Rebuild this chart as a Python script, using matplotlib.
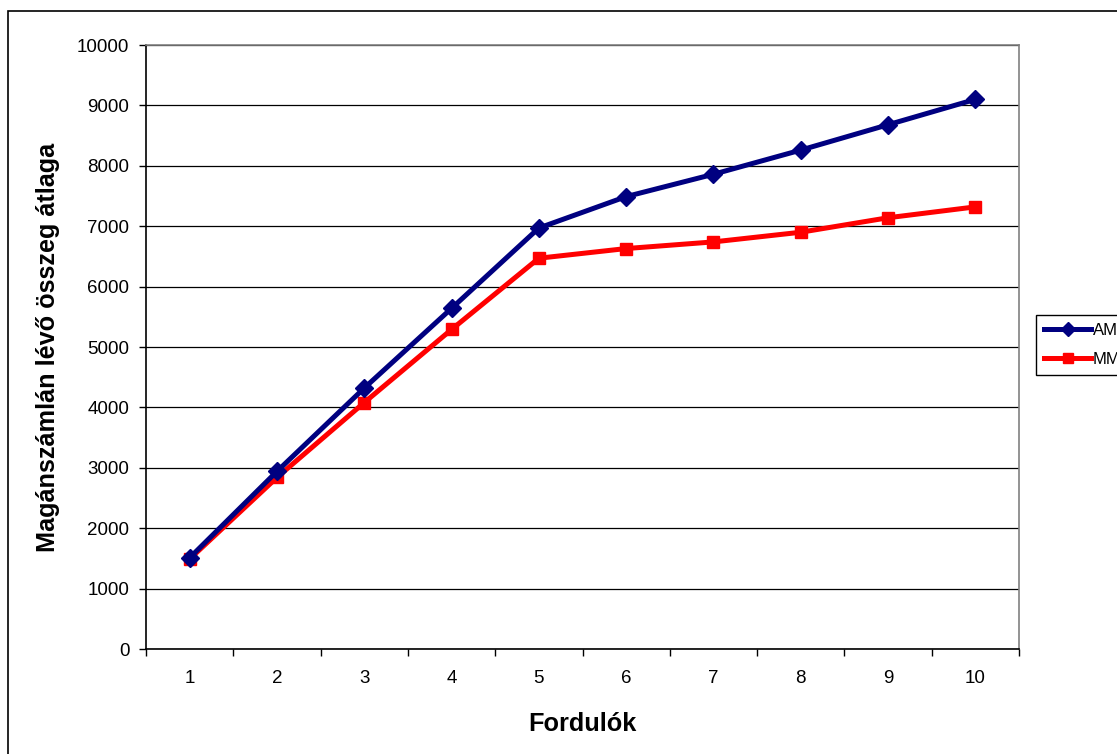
import matplotlib.pyplot as plt
from matplotlib.patches import Rectangle

plt.rcParams['font.family'] = ['Liberation Sans', 'DejaVu Sans']

# data
rounds = [1, 2, 3, 4, 5, 6, 7, 8, 9, 10]
am = [1510, 2940, 4320, 5640, 6970, 7490, 7860, 8260, 8680, 9100]
mm = [1490, 2840, 4080, 5290, 6470, 6630, 6740, 6900, 7140, 7320]

W, H = 1117, 754
fig = plt.figure(figsize=(W / 100, H / 100), dpi=100)
ax = fig.add_axes([146 / W, 1 - 649 / H, 873 / W, 604 / H])

# outer chart frame
fig.patches.append(Rectangle((8 / W, -0.1), 1.2, 1.1 - 11 / H, transform=fig.transFigure,
                             fill=False, edgecolor='black', linewidth=1.2))

pos = list(range(len(rounds)))
ax.plot(pos, am, color='#000080', linewidth=3.6, marker='D', markersize=9.5,
        label='AM', zorder=4)
ax.plot(pos, mm, color='#ff0000', linewidth=3.6, marker='s', markersize=9,
        label='MM', zorder=3)

ax.set_xlim(-0.5, len(rounds) - 0.5)
ax.set_ylim(0, 10000)
ax.set_yticks(range(0, 10001, 1000))
ax.yaxis.grid(True, color='black', linewidth=0.9)
ax.set_axisbelow(True)

# category ticks sit between the points, labels in the middle
ax.set_xticks([p - 0.5 for p in pos] + [len(rounds) - 0.5])
ax.set_xticklabels([])
ax.set_xticks(pos, minor=True)
ax.set_xticklabels([str(r) for r in rounds], minor=True)
ax.tick_params(axis='x', which='minor', length=0, pad=15, labelsize=13.5)
ax.tick_params(axis='x', which='major', length=5, direction='out', width=1)
ax.tick_params(axis='y', length=5, direction='out', width=1, pad=7, labelsize=13.5)

for s in ['top', 'right']:
    ax.spines[s].set_color('#808080')
    ax.spines[s].set_linewidth(1.2)
for s in ['left', 'bottom']:
    ax.spines[s].set_color('black')
    ax.spines[s].set_linewidth(1.2)

fig.text(48 / W, 1 - 347.5 / H, 'Magánszámlán lévő összeg átlaga', rotation=90,
         ha='center', va='center', fontsize=18.2, fontweight='bold')
fig.text(582.5 / W, 1 - 731 / H, 'Fordulók', ha='center', va='baseline',
         fontsize=18.2, fontweight='bold')

leg = ax.legend(loc='upper left', bbox_to_anchor=(1036 / W, 1 - 315 / H),
                bbox_transform=fig.transFigure, borderaxespad=0, fontsize=12,
                frameon=True, fancybox=False, edgecolor='black', framealpha=1,
                handlelength=2.8, handletextpad=0.1, labelspacing=0.8,
                borderpad=0.5, markerscale=0.8)
leg.get_frame().set_linewidth(1)

fig.savefig('out.png', dpi=100)
